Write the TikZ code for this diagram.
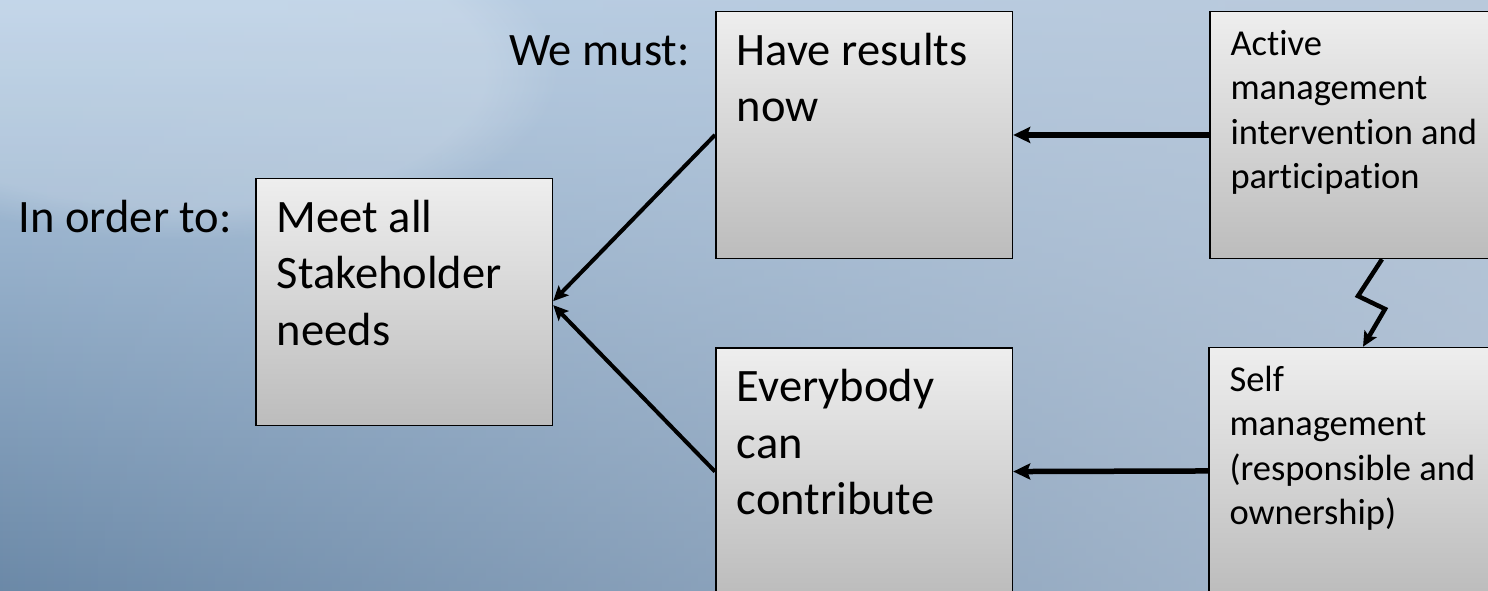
\documentclass[tikz,border=0pt]{standalone}
\usepackage{fontspec}
\setmainfont{Carlito}[Ligatures={NoCommon}]
\usetikzlibrary{arrows.meta,fadings,calc}
\definecolor{bgtop}{RGB}{186,209,232}
\definecolor{bgbot}{RGB}{104,134,165}
\definecolor{bgright}{RGB}{186,200,217}
\definecolor{boxtop}{RGB}{238,238,238}
\definecolor{boxbot}{RGB}{188,188,188}
\tikzfading[name=faderight, left color=transparent!100, right color=transparent!15]
\begin{document}
\begin{tikzpicture}[x=1pt,y=-1pt,
  box/.style={draw=black, line width=1.5pt, top color=boxtop, bottom color=boxbot,
    minimum width=296.7pt, minimum height=247pt, inner sep=0pt, anchor=north west},
  bigtxt/.style={font=\fontsize{46.5}{56.5}\selectfont, align=left, inner sep=0pt, anchor=north west},
  smalltxt/.style={font=\fontsize{36.5}{44.5}\selectfont, align=left, inner sep=0pt, anchor=north west},
  lbl/.style={font=\fontsize{46.5}{56.5}\selectfont, inner sep=0pt, anchor=base east},
  harrow/.style={line width=5.5pt, -{Stealth[length=17pt,width=16pt,inset=3pt]}},
  darrow/.style={line width=4pt, -{Stealth[length=15pt,width=14pt,inset=3pt]}},
  bolt/.style={line width=4.5pt, line join=miter, -{Stealth[length=15pt,width=14pt,inset=3pt]}}
]
\clip (0,0) rectangle (1488,590);
\shade[top color=bgtop, bottom color=bgbot] (-20,-20) rectangle (1510,610);
\fill[bgright, path fading=faderight, fit fading=true] (-20,-20) rectangle (1560,610);
\fill[white, opacity=0.18, path fading=circle with fuzzy edge 20 percent] (180,70) ellipse (380 and 170);

% boxes
\node[box] (meet) at (255,177.9) {};
\node[box] (have) at (715,10.7) {};
\node[box] (every) at (715,347.3) {};
\node[box] (active) at (1209.3,10.7) {};
\node[box] (self) at (1208.3,346.7) {};

% texts
\node[bigtxt] (meetT) at ($(meet.north west)+(21.7,14.75)$) {\strut Meet all\\Stakeholder\\needs};
\node[bigtxt] (haveT) at ($(have.north west)+(21.7,14.75)$) {\strut Have results\\now};
\node[bigtxt] (everyT) at ($(every.north west)+(21.7,14.75)$) {\strut Everybody\\can\\contribute};
\node[smalltxt] (activeT) at ($(active.north west)+(21,13.4)$) {\strut Active\\management\\intervention and\\participation};
\node[smalltxt] (selfT) at ($(self.north west)+(21,13.4)$) {\strut Self\\management\\(responsible and\\ownership)};

% labels
\node[lbl] (must) at ($(have.north west)+(-25,54.3)$) {We must:};
\node[lbl] (order) at ($(meet.north west)+(-23,54.3)$) {In order to:};

% connectors
\draw[harrow] (active.west) -- (have.east);
\draw[harrow] (self.west) -- (every.east);
\draw[darrow] (have.west) -- ([yshift=1pt]meet.east);
\draw[darrow] (every.west) -- ([yshift=-3pt]meet.east);
\coordinate (b1) at (1358,296);
\coordinate (b2) at (1385,309);
\draw[bolt] ([xshift=172.7pt]active.south west) -- (b1) -- (b2) -- ([xshift=154.7pt]self.north west);
\end{tikzpicture}
\end{document}
